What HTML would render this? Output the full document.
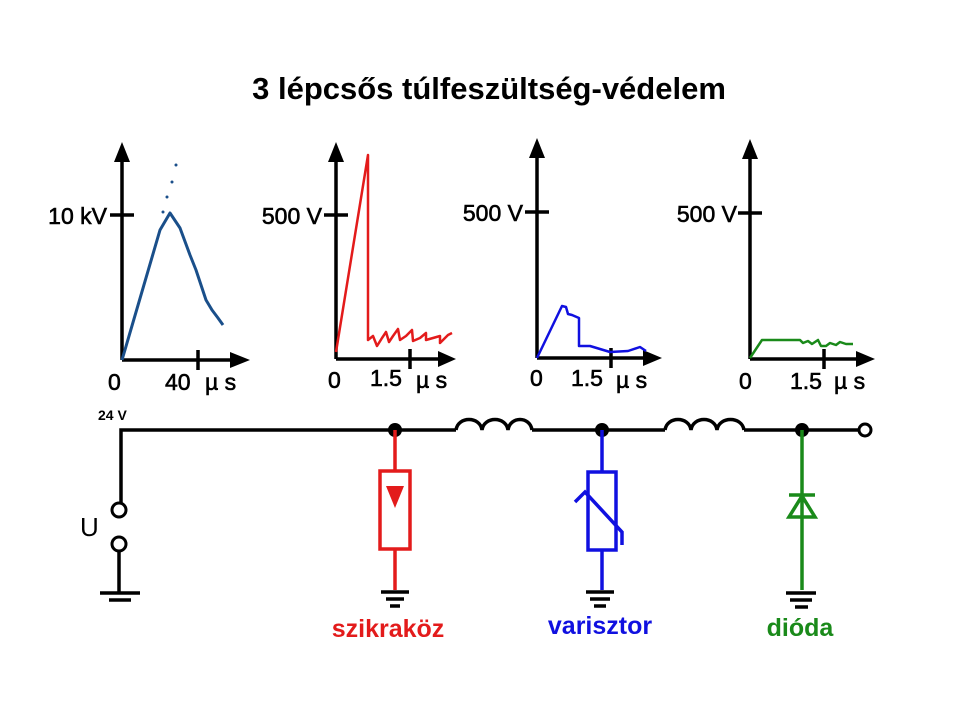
<!DOCTYPE html>
<html><head><style>body{margin:0;background:#fff}</style></head><body>
<svg width="960" height="720" xmlns="http://www.w3.org/2000/svg" font-family="Liberation Sans, Arial, sans-serif">
<rect width="960" height="720" fill="#fff"/>
<text x="489" y="99" font-size="31" font-weight="bold" text-anchor="middle">3 lépcsős túlfeszültség-védelem</text>
<g stroke="#000" stroke-width="3.5" fill="none">
<path d="M122,360V160M122,360H232M110,215H134M198,350V370"/>
<path d="M336,359V160M336,359H440M324,215H348M410,349V369"/>
<path d="M537,358V156M537,358H645M525,212H549M611,348V368"/>
<path d="M750,359V157M750,359H858M738,213H762M824,349V369"/>
</g>
<g fill="#000">
<path d="M114,162L122,142L130,162Z M230,352L250,360L230,368Z"/>
<path d="M328,162L336,142L344,162Z M438,351L456,359L438,367Z"/>
<path d="M529,158L537,138L545,158Z M643,350L662,358L643,366Z"/>
<path d="M742,159L750,139L758,159Z M856,351L875,359L856,367Z"/>
</g>
<g font-size="23" fill="#000" stroke="#000" stroke-width="0.6">
<text x="107" y="224" text-anchor="end">10 kV</text>
<text x="108" y="390">0</text><text x="165" y="390">40</text><text x="205" y="390">µ s</text>
<text x="322" y="224" text-anchor="end">500 V</text>
<text x="328" y="388">0</text><text x="370" y="386">1.5</text><text x="416" y="388">µ s</text>
<text x="523" y="221" text-anchor="end">500 V</text>
<text x="530" y="386">0</text><text x="571" y="386">1.5</text><text x="616" y="388">µ s</text>
<text x="737" y="222" text-anchor="end">500 V</text>
<text x="739" y="389">0</text><text x="790" y="389">1.5</text><text x="834" y="389">µ s</text>
</g>
<g fill="none" stroke-width="2.5" stroke-linejoin="round">
<path stroke="#1a4f8a" stroke-width="3" d="M122,360L160,230L170,213L180,228L190,255L196,270L201,285L206,300L212,310L218,318L223,325"/>
<path stroke="#e31b1b" d="M336,352L368,155L368,340L373,336L377,346L382,338L386,332L389,342L393,336L398,329L400,340L406,336L412,330L413,341L420,338L426,333L426,340L440,336L440,343L448,335L452,333"/>
<path stroke="#1010e0" d="M537,358L562,306L566,307L568,314L572,315L579,318L579,346L590,346L610,352L628,351L640,347L646,351"/>
<path stroke="#1a8a1a" d="M750,358L762,340L800,340L803,343L808,341L812,344L818,340L821,346L826,346L830,343L836,345L840,342L846,344L853,344"/>
</g>
<g fill="#1a4f8a"><circle cx="163" cy="212" r="1.5"/><circle cx="167" cy="197" r="1.5"/><circle cx="172" cy="182" r="1.5"/><circle cx="176" cy="165" r="1.5"/></g>
<text x="98" y="420" font-size="14" font-weight="bold">24 V</text>
<g stroke="#000" stroke-width="3.5" fill="none">
<path d="M121,503V430H456M532,430H665M744,430H858"/>
<path d="M456,430c2-14 24-14 26,0c2-14 24-14 26,0c2-14 22-14 24,0"/>
<path d="M665,430c2-14 24-14 26,0c2-14 24-14 26,0c2-14 25-14 27,0"/>
<circle cx="865" cy="430" r="6" stroke-width="3"/>
<circle cx="119" cy="510" r="7" stroke-width="3"/><circle cx="119" cy="544" r="7" stroke-width="3"/>
<path d="M119,551V593M100,593H140M109,600H131"/>
<path d="M381,592H409M386,599H404M390,606H400"/>
<path d="M586,592H614M590,599H610M594,606H606"/>
<path d="M786,593H816M790,600H812M795,607H808"/>
</g>
<g fill="#000"><circle cx="395" cy="430" r="7"/><circle cx="602" cy="430" r="7"/><circle cx="802" cy="430" r="7"/></g>
<g stroke="#e31b1b" stroke-width="3.5" fill="none"><path d="M395,430V471M395,549V590"/><rect x="380" y="471" width="30" height="78"/></g>
<path d="M386,486H404L395,508Z" fill="#e31b1b"/>
<g stroke="#1010e0" stroke-width="3.5" fill="none"><path d="M602,430V472M602,550V590"/><rect x="588" y="472" width="28" height="78"/><path d="M575,502L585,492L622,532V545"/></g>
<g stroke="#1a8a1a" stroke-width="3.5" fill="none"><path d="M802,430V590M789,495H815M802,496L789,517H815Z"/></g>
<g font-size="25" font-weight="bold" text-anchor="middle">
<text x="388" y="637" fill="#e31b1b">szikraköz</text>
<text x="600" y="634" fill="#1010e0">varisztor</text>
<text x="800" y="636" fill="#1a8a1a">dióda</text>
</g>
<text x="80" y="536" font-size="26">U</text>
</svg>
</body></html>
